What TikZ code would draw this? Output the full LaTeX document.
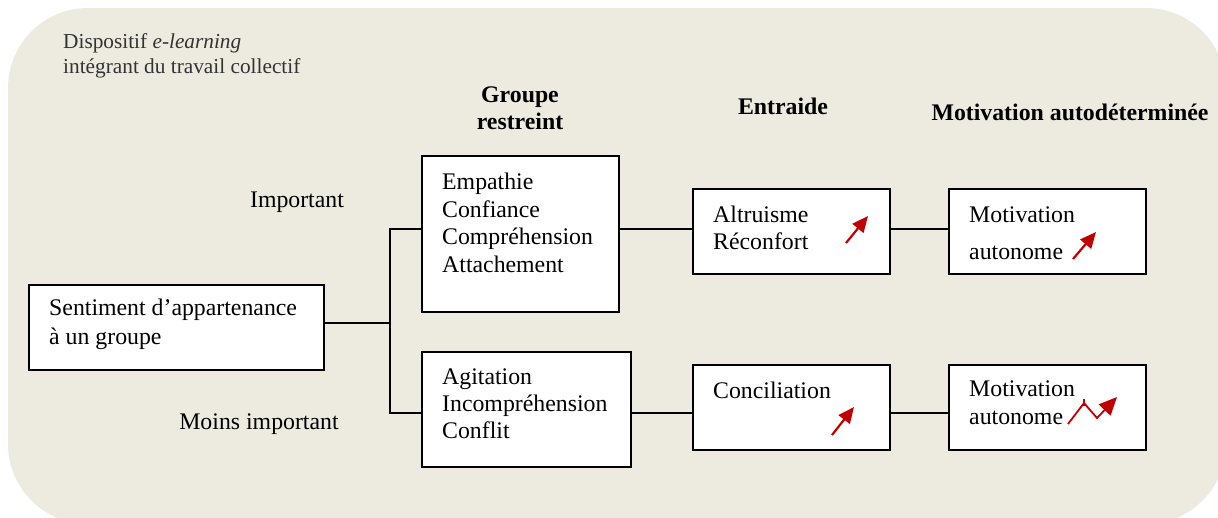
\documentclass[tikz,border=0pt]{standalone}
\usepackage{fontspec}
\setmainfont{Liberation Serif}
\usetikzlibrary{arrows.meta}
\definecolor{bgc}{HTML}{EDEAE0}
\definecolor{arr}{HTML}{C00000}
\begin{document}
\begin{tikzpicture}[x=1pt,y=-1pt,
  box/.style={draw=black,line width=1.7pt,fill=white,rectangle,inner sep=0pt,anchor=north west},
  txt/.style={font=\fontsize{23.8}{27.5}\selectfont,align=left,inner sep=0pt,anchor=west},
  head/.style={font=\fontsize{23.8}{27}\selectfont\bfseries,align=center,inner sep=0pt},
  conn/.style={line width=1.5pt,draw=black},
  up/.style={draw=arr,line width=2.2pt,-{Triangle[length=16pt,width=14pt]}}]
\useasboundingbox (0,0) rectangle (1218,517);
\fill[bgc,rounded corners=80pt] (8,8) rectangle (1226,524);
% caption
\node[txt,anchor=west,text=black!80,font=\fontsize{21.3}{25}\selectfont] (cap) at (63,56) {Dispositif \textit{e-learning}\\intégrant du travail collectif};
% headers
\node[head] (hg) at (520,108) {Groupe\\restreint};
\node[head] (he) at (783,106) {Entraide};
\node[head] (hm) at (1070,112) {Motivation autodéterminée};
% side labels
\node[txt,anchor=center] (imp) at (297,202) {Important};
\node[txt,anchor=center] (moins) at (259,424) {Moins important};
% boxes
\node[box,minimum width=295pt,minimum height=85pt] (s) at (28,284) {};
\node[box,minimum width=197pt,minimum height=156pt] (g1) at (421,155) {};
\node[box,minimum width=209pt,minimum height=115pt] (g2) at (421,351) {};
\node[box,minimum width=197pt,minimum height=85pt] (e1) at (692,188) {};
\node[box,minimum width=197pt,minimum height=85pt] (m1) at (948,188) {};
\node[box,minimum width=197pt,minimum height=85pt] (e2) at (692,364) {};
\node[box,minimum width=197pt,minimum height=85pt] (m2) at (948,364) {};
% box texts
\node[txt,font=\fontsize{23.8}{29}\selectfont] (st) at (49,324) {Sentiment d’appartenance\\à un groupe};
\node[txt] (g1t) at (442,223) {Empathie\\Confiance\\Compréhension\\Attachement};
\node[txt,font=\fontsize{23.8}{27}\selectfont] (g2t) at (442,404) {Agitation\\Incompréhension\\Conflit};
\node[txt,font=\fontsize{23.8}{27}\selectfont] (e1t) at (713,228) {Altruisme\\Réconfort};
\node[txt,font=\fontsize{23.8}{37}\selectfont] (m1t) at (969,233) {Motivation\\autonome};
\node[txt] (e2t) at (713,390) {Conciliation};
\node[txt,font=\fontsize{23.8}{28}\selectfont] (m2t) at (969,403) {Motivation\\autonome};
% connectors
\coordinate (j) at (390,323);
\coordinate (jt) at (390,229);
\coordinate (jb) at (390,413);
\draw[conn] (s.east |- j) -- (j);
\draw[conn] (g1.west |- jt) -- (jt) -- (jb) -- (g2.west |- jb);
\draw[conn] (g1.east |- jt) -- (e1.west |- jt);
\draw[conn] (e1.east |- jt) -- (m1.west |- jt);
\draw[conn] (g2.east |- jb) -- (e2.west |- jb);
\draw[conn] (e2.east |- jb) -- (m2.west |- jb);
% red arrows
\draw[up] (846,243) -- (868,216);
\draw[up] (1073,259) -- (1096,232);
\draw[up] (832,435) -- (854,407);
\draw[draw=arr,line width=1.8pt,line join=miter,-{Triangle[length=18pt,width=16pt]}] (1068,424) -- (1084,403) -- (1097,418) -- (1117,397);
\draw[arr,line width=1.5pt] (1084,399) -- (1084,406);
\end{tikzpicture}
\end{document}
